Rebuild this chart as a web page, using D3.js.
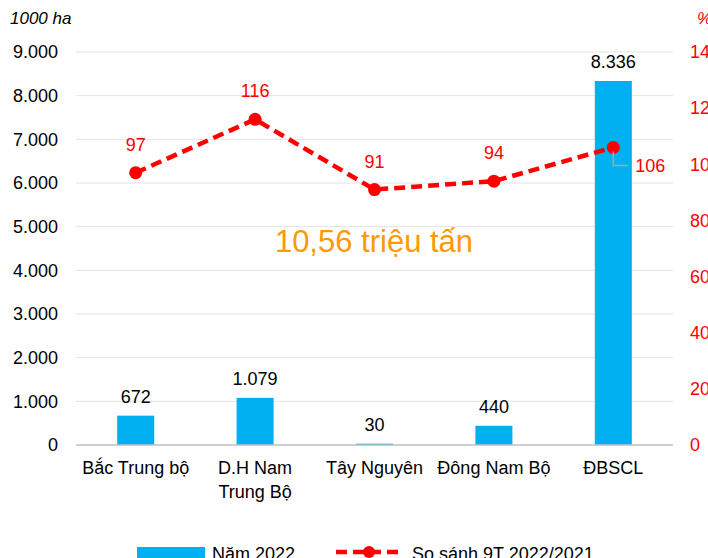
<!DOCTYPE html>
<html>
<head>
<meta charset="utf-8">
<script src="https://cdn.jsdelivr.net/npm/d3@7"></script>
<style>
  body { margin: 0; background: #fff; }
  text { font-family: "Liberation Sans", Arial, sans-serif; }
</style>
</head>
<body>
<svg id="chart"></svg>
<script>
var categories = [["Bắc Trung bộ"], ["D.H Nam", "Trung Bộ"], ["Tây Nguyên"], ["Đông Nam Bộ"], ["ĐBSCL"]];
var areaValues = [672, 1079, 30, 440, 8336];
var areaLabels = ["672", "1.079", "30", "440", "8.336"];
var ratioValues = [97, 116, 91, 94, 106];
var leftTicks = [0, 1000, 2000, 3000, 4000, 5000, 6000, 7000, 8000, 9000];
var rightTicks = [0, 20, 40, 60, 80, 100, 120, 140];

var W = 708, H = 558;
var plotLeft = 76, plotRight = 673, plotTop = 52, plotBottom = 445;
var fs = '18px';
var fmt = function(v){ return v === 0 ? "0" : d3.format(",")(v).replace(/,/g, "."); };

var svg = d3.select('#chart').attr('width', W).attr('height', H);

var x = d3.scaleBand().domain(d3.range(categories.length)).range([plotLeft, plotRight]).paddingInner(0.69).paddingOuter(0.345);
var y = d3.scaleLinear().domain([0, 9000]).range([plotBottom, plotTop]);
var y2 = d3.scaleLinear().domain([0, 140]).range([plotBottom, plotTop]);

// gridlines
svg.append('g').selectAll('line')
  .data(leftTicks.slice(1))
  .enter().append('line')
  .attr('x1', plotLeft).attr('x2', plotRight)
  .attr('y1', function(d){ return y(d); }).attr('y2', function(d){ return y(d); })
  .style('stroke', '#e3e3e3').style('stroke-width', 1);

// left axis
var yAxis = svg.append('g')
  .attr('transform', 'translate(' + plotLeft + ',0)')
  .call(d3.axisLeft(y).tickValues(leftTicks).tickFormat(fmt).tickSize(0).tickPadding(18));
yAxis.select('.domain').remove();
yAxis.selectAll('text').style('font-size', fs).style('fill', '#000');

// right axis
var y2Axis = svg.append('g')
  .attr('transform', 'translate(' + plotRight + ',0)')
  .call(d3.axisRight(y2).tickValues(rightTicks).tickSize(0).tickPadding(17));
y2Axis.select('.domain').remove();
y2Axis.selectAll('text').style('font-size', fs).style('fill', '#ff0000');

svg.append('text').attr('x', 10).attr('y', 24)
  .style('font-size', '17px').style('font-style', 'italic').text('1000 ha');
svg.append('text').attr('x', 697).attr('y', 24)
  .style('font-size', '17px').style('font-style', 'italic').style('fill', '#ff0000').text('%');

// bars
svg.append('g').selectAll('rect')
  .data(areaValues)
  .enter().append('rect')
  .attr('x', function(d, i){ return x(i); })
  .attr('width', x.bandwidth())
  .attr('y', function(d){ return y(d); })
  .attr('height', function(d){ return plotBottom - y(d); })
  .style('fill', '#00b0f0');

// baseline
svg.append('line').attr('x1', plotLeft).attr('x2', plotRight).attr('y1', plotBottom).attr('y2', plotBottom)
  .style('stroke', '#bfbfbf').style('stroke-width', 1.5);

// bar labels
svg.append('g').selectAll('text')
  .data(areaValues)
  .enter().append('text')
  .attr('x', function(d, i){ return x(i) + x.bandwidth() / 2; })
  .attr('y', function(d){ return y(d) - 13; })
  .attr('text-anchor', 'middle')
  .style('font-size', fs)
  .text(function(d, i){ return areaLabels[i]; });

// category labels
var cat = svg.append('g').selectAll('text')
  .data(categories)
  .enter().append('text')
  .attr('text-anchor', 'middle')
  .attr('x', function(d, i){ return x(i) + x.bandwidth() / 2; })
  .attr('y', 474)
  .style('font-size', fs);
cat.selectAll('tspan')
  .data(function(d){ return d; })
  .enter().append('tspan')
  .attr('x', function(){ return d3.select(this.parentNode).attr('x'); })
  .attr('dy', function(d, i){ return i === 0 ? 0 : 24; })
  .text(function(d){ return d; });

// center annotation
svg.append('text').attr('x', 374).attr('y', 252).attr('text-anchor', 'middle')
  .style('font-size', '31px').style('fill', '#ff9900').text('10,56 triệu tấn');

// ratio line
var cx = function(i){ return x(i) + x.bandwidth() / 2; };
var line = d3.line().x(function(d, i){ return cx(i); }).y(function(d){ return y2(d); });
svg.append('path').datum(ratioValues)
  .attr('d', line)
  .style('fill', 'none').style('stroke', '#ff0000').style('stroke-width', 4.5)
  .style('stroke-dasharray', '11,6');
svg.append('g').selectAll('circle')
  .data(ratioValues)
  .enter().append('circle')
  .attr('cx', function(d, i){ return cx(i); })
  .attr('cy', function(d){ return y2(d); })
  .attr('r', 6.5)
  .style('fill', '#ff0000');

// leader line for the last label
var last = ratioValues.length - 1;
svg.append('path')
  .attr('d', 'M' + cx(last) + ',' + (y2(ratioValues[last]) + 4) + 'V' + (y2(ratioValues[last]) + 18) + 'H' + (cx(last) + 15))
  .style('fill', 'none').style('stroke', '#a6a6a6').style('stroke-width', 1.5);

svg.append('g').selectAll('text')
  .data(ratioValues)
  .enter().append('text')
  .attr('x', function(d, i){ return i === last ? cx(i) + 22 : cx(i); })
  .attr('y', function(d, i){ return i === last ? y2(d) + 25 : y2(d) - 22; })
  .attr('text-anchor', function(d, i){ return i === last ? 'start' : 'middle'; })
  .style('font-size', fs).style('fill', '#ff0000')
  .text(function(d){ return d; });

// legend
var lg = svg.append('g');
lg.append('rect').attr('x', 137).attr('y', 547).attr('width', 68).attr('height', 11).style('fill', '#00b0f0');
lg.append('text').attr('x', 212).attr('y', 560).style('font-size', fs).text('Năm 2022');
lg.append('line').attr('x1', 336).attr('x2', 403).attr('y1', 552).attr('y2', 552)
  .style('stroke', '#ff0000').style('stroke-width', 4.5).style('stroke-dasharray', '11,6');
lg.append('circle').attr('cx', 369).attr('cy', 552).attr('r', 6).style('fill', '#ff0000');
lg.append('text').attr('x', 412).attr('y', 560).style('font-size', fs).text('So sánh 9T 2022/2021');
</script>
</body>
</html>
